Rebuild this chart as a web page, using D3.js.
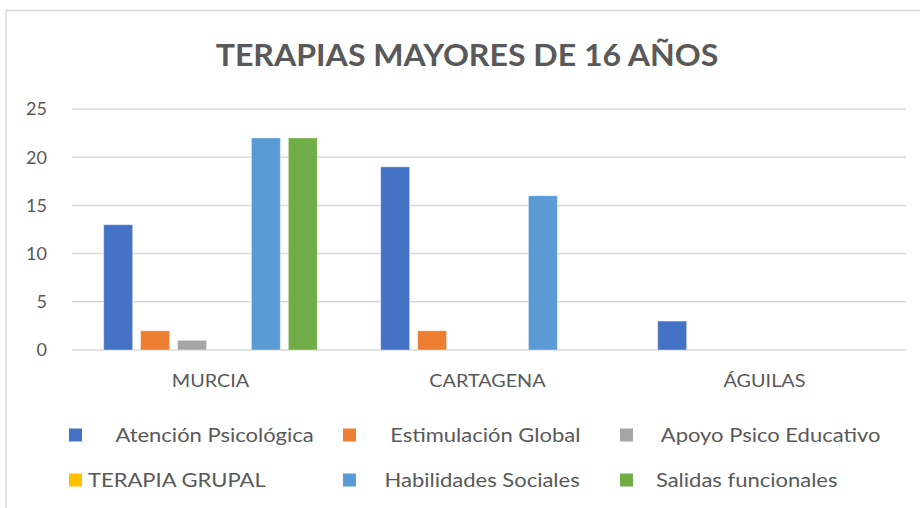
<!DOCTYPE html>
<html lang="es">
  <head>
    <meta charset="UTF-8" />
    <title>terapias mayores de 16 años</title>
    <script src="https://d3js.org/d3.v7.min.js"></script>
    <style>
      body {
        margin: 0;
        background: #fff;
      }
      text {
        font-family: Lato, "Open Sans", sans-serif;
        fill: #595959;
      }
      .grid line {
        stroke: #d9d9d9;
        stroke-width: 1.5;
      }
      .legend text {
        white-space: pre;
      }
    </style>
  </head>
  <body>
    <svg width="920" height="508"></svg>

    <script>
      const ciudades = ["MURCIA", "CARTAGENA", "ÁGUILAS"];
      const terapias = [
        "     Atención Psicológica",
        "     Estimulación Global",
        "    Apoyo Psico Educativo",
        "TERAPIA GRUPAL",
        "    Habilidades Sociales",
        "   Salidas funcionales",
      ];
      const colores = ["#4472c4", "#ed7d31", "#a5a5a5", "#ffc000", "#5b9bd5", "#70ad47"];
      // valores por terapia, en el orden de ciudades
      const atencion = [13, 19, 3];
      const estimulacion = [2, 2, 0];
      const apoyo = [1, 0, 0];
      const grupal = [0, 0, 0];
      const habilidades = [22, 16, 0];
      const salidas = [22, 0, 0];
      const yTicks = [0, 5, 10, 15, 20, 25];

      const series = [atencion, estimulacion, apoyo, grupal, habilidades, salidas];

      const width = 920;
      const height = 508;
      const plot = { left: 72, right: 903, top: 109, bottom: 350 };
      // el original esta algo estirado en horizontal
      const stretch = 1.1;

      const svg = d3.select("svg");

      // marco del gráfico
      svg
        .append("rect")
        .attr("x", 6)
        .attr("y", 10.5)
        .attr("width", width + 20)
        .attr("height", height + 20)
        .attr("fill", "none")
        .attr("stroke", "#d9d9d9")
        .attr("stroke-width", 1.5);

      svg
        .append("text")
        .attr("transform", "translate(467,66) scale(1.07,1)")
        .attr("text-anchor", "middle")
        .style("font-weight", "bold")
        .style("font-size", "30px")
        .text("TERAPIAS MAYORES DE 16 AÑOS");

      const y = d3.scaleLinear().domain([0, 25]).range([plot.bottom, plot.top]);

      const x0 = d3.scaleBand().domain(ciudades).range([plot.left, plot.right]).padding(0);
      const inner = x0.bandwidth() * 0.1;
      const x1 = d3
        .scaleBand()
        .domain(d3.range(terapias.length))
        .range([inner, x0.bandwidth() - inner])
        .paddingInner(0.216)
        .paddingOuter(0.108);

      // lineas de cuadricula
      svg
        .append("g")
        .attr("class", "grid")
        .selectAll("line")
        .data(yTicks)
        .join("line")
        .attr("x1", plot.left)
        .attr("x2", plot.right + 3)
        .attr("y1", (d) => y(d))
        .attr("y2", (d) => y(d));

      svg
        .append("g")
        .selectAll("text")
        .data(yTicks)
        .join("text")
        .attr("x", 47)
        .attr("y", (d) => y(d))
        .attr("dy", "0.36em")
        .attr("text-anchor", "end")
        .style("font-size", "18px")
        .text((d) => d);

      const bars = [];
      series.forEach((vals, i) => {
        vals.forEach((v, j) => {
          if (v > 0) bars.push({ ciudad: ciudades[j], serie: i, valor: v });
        });
      });

      svg
        .append("g")
        .selectAll("rect")
        .data(bars)
        .join("rect")
        .attr("x", (d) => x0(d.ciudad) + x1(d.serie))
        .attr("y", (d) => y(d.valor))
        .attr("width", x1.bandwidth())
        .attr("height", (d) => y(0) - y(d.valor))
        .attr("fill", (d) => colores[d.serie])
        .attr("stroke", "#fff")
        .attr("stroke-opacity", 0.4)
        .attr("stroke-width", 1);

      svg
        .append("g")
        .selectAll("text")
        .data(ciudades)
        .join("text")
        .attr("transform", (d) => `translate(${x0(d) + x0.bandwidth() / 2},387) scale(${stretch},1)`)
        .attr("text-anchor", "middle")
        .style("font-size", "18px")
        .text((d) => d);

      // leyenda
      const legendCols = [69, 343, 620];
      const legendRows = [435, 480];
      const legend = svg
        .append("g")
        .attr("class", "legend")
        .selectAll("g")
        .data(terapias)
        .join("g")
        .attr("transform", (d, i) => `translate(${legendCols[i % 3]},${legendRows[Math.floor(i / 3)]})`);

      legend
        .append("rect")
        .attr("x", 0)
        .attr("y", -6.5)
        .attr("width", 13)
        .attr("height", 13)
        .attr("fill", (d, i) => colores[i]);

      legend
        .append("text")
        .attr("transform", `translate(19,0) scale(${stretch},1)`)
        .attr("dy", "0.36em")
        .style("font-size", "20px")
        .text((d) => d);
    </script>
  </body>
</html>
